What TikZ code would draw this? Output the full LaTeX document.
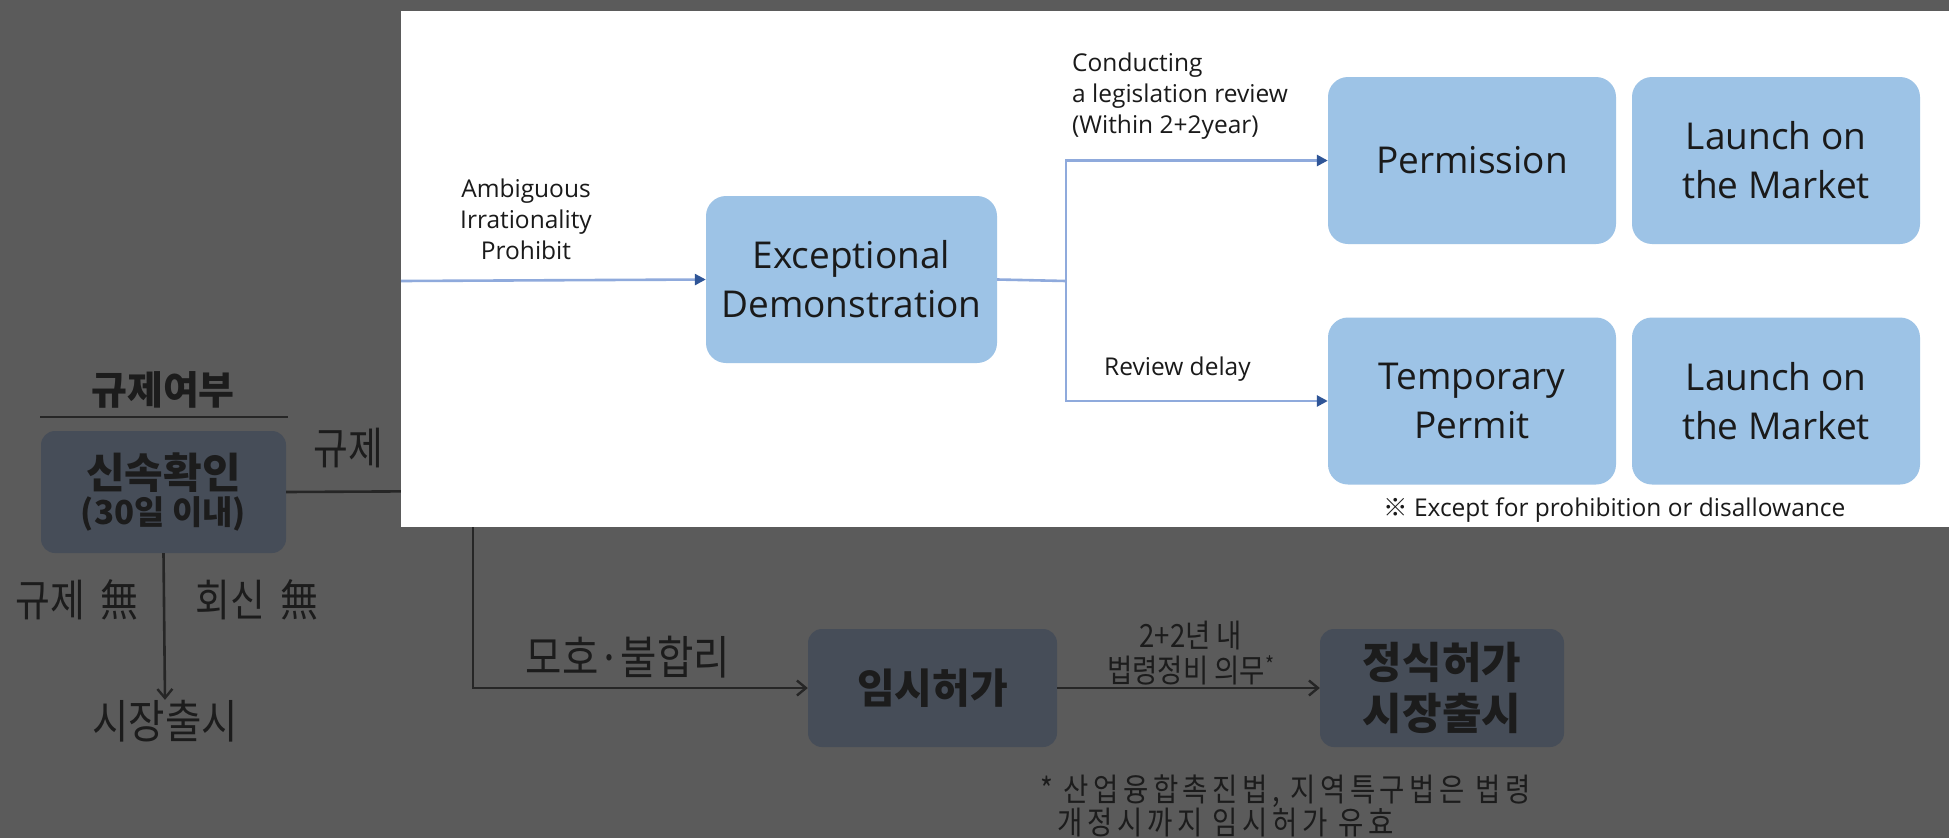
\documentclass[tikz,border=0pt]{standalone}
\usepackage{fontspec}
\setmainfont{Noto Sans CJK KR}
\newfontfamily\krc{Noto Sans CJK KR}[FakeStretch=0.86]
\newfontfamily\krw{Noto Sans CJK KR}[FakeStretch=0.86,LetterSpace=14]
\newfontfamily\en{Open Sans}
\usetikzlibrary{arrows.meta}
\definecolor{bgc}{HTML}{5B5B5B}
\definecolor{dboxc}{HTML}{464D58}
\definecolor{dtext}{HTML}{1C1C1C}
\definecolor{dlinec}{HTML}{262626}
\definecolor{bboxc}{HTML}{9DC3E6}
\definecolor{blinec}{HTML}{8FAADC}
\definecolor{barrc}{HTML}{2F5597}
\definecolor{btext}{HTML}{1A1A1A}
\tikzset{
  dbox/.style={fill=dboxc, rounded corners=14pt, inner sep=0pt, align=center, text=dtext},
  dlab/.style={inner sep=0pt, align=center, text=dtext, font=\krc\fontsize{44}{48}\selectfont},
  dline/.style={draw=dlinec, line width=2.6pt},
  darr/.style={dline, -{Straight Barb[length=9pt,width=15pt,line width=2.4pt]}},
  bbox/.style={fill=bboxc, rounded corners=20pt, inner sep=0pt, align=center, text=btext,
               font=\en\fontsize{37}{49}\selectfont},
  blab/.style={inner sep=0pt, text=btext, font=\en\fontsize{24.5}{31}\selectfont},
  bline/.style={draw=blinec, line width=2.6pt},
  barr/.style={bline, -{Triangle[length=11pt,width=11pt,color=barrc]}},
}
\begin{document}
\begin{tikzpicture}[x=1pt,y=-1pt]
\fill[bgc] (0,0) rectangle (1949,838);
\useasboundingbox (0,0) rectangle (1949,838);

% ---------- dimmed Korean diagram ----------
\node[inner sep=0pt, text=dtext, font=\bfseries\fontsize{39}{42}\selectfont] (title) at (163,390) {규제여부};
\draw[draw=dlinec, line width=2pt] (40,417) -- (288,417);
\node[dbox, minimum width=245pt, minimum height=122pt] (chk) at (163.5,492)
  {{\bfseries\fontsize{42}{46}\selectfont 신속확인}\\[4pt]{\bfseries\fontsize{33}{36}\selectfont (30일 이내)}};
\node[dlab] (lreg) at (348,448) {규제};
\node[dlab] (lno1) at (77,600) {규제\hspace{0.15em} 無};
\node[dlab] (lno2) at (257,600) {회신\hspace{0.15em} 無};
\node[dlab, font=\krc\fontsize{46}{50}\selectfont] (mkt) at (165,721) {시장출시};
\node[dlab, font=\krc\fontsize{46}{50}\selectfont] (lamb) at (628,657) {모호·불합리};
\node[dbox, minimum width=249pt, minimum height=118pt, font=\bfseries\fontsize{41}{45}\selectfont] (tmp) at (932.5,688) {임시허가};
\node[dbox, minimum width=244pt, minimum height=118pt, font=\bfseries\fontsize{43}{51}\selectfont] (fin) at (1442,688) {정식허가\\시장출시};
\node[dlab, font=\krc\fontsize{32}{35}\selectfont] (l22) at (1191,653) {2+2년 내\\법령정비 의무\textsuperscript{*}};
\node[dlab, font=\krw\fontsize{32}{33}\selectfont, align=left, anchor=west] (foot) at (1040,806)
  {* 산업융합촉진법, 지역특구법은 법령\\\hspace*{0.55em}개정시까지 임시허가 유효};
\coordinate (j1) at (473,491);
\draw[dline] (chk.east) -- (j1);
\draw[darr] (j1) |- (tmp.west);
\draw[darr] (chk.south) -- (mkt.north);
\draw[darr] (tmp.east) -- (fin.west);

% ---------- white overlay panel ----------
\fill[white] (401,11) rectangle (1949,527);
\node[blab, align=center] (amb) at (526,219) {Ambiguous\\Irrationality\\Prohibit};
\node[bbox, minimum width=291pt, minimum height=167pt] (ed) at (851.5,279.5) {Exceptional\\Demonstration};
\node[bbox, minimum width=288pt, minimum height=167pt] (perm) at (1472,160.5) {Permission};
\node[bbox, minimum width=288pt, minimum height=167pt] (lm1) at (1776,160.5) {Launch on\\the Market};
\node[bbox, minimum width=288pt, minimum height=167pt] (tp) at (1472,401) {Temporary\\Permit};
\node[bbox, minimum width=288pt, minimum height=167pt] (lm2) at (1776,401) {Launch on\\the Market};
\node[blab, align=left, anchor=west] (cond) at (1072,96) {Conducting\\a legislation review\\(Within 2+2year)};
\node[blab, anchor=west] (rd) at (1104,369) {Review delay};
\node[blab, anchor=west] (exc) at (1383,510) {{\rmfamily ※} Except for prohibition or disallowance};
\coordinate (in) at (401,281);
\coordinate (jn) at (1066,281);
\draw[barr] (in) -- (ed.west);
\draw[bline] (ed.east) -- (jn);
\draw[barr] (jn) |- (perm.west);
\draw[barr] (jn) |- (tp.west);
\end{tikzpicture}
\end{document}
